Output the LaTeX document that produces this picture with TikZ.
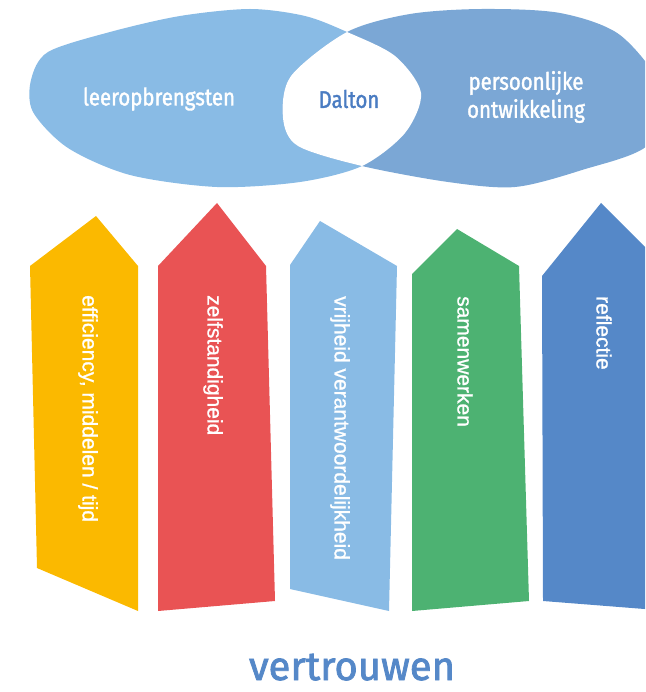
\documentclass[tikz,border=0pt]{standalone}
\usepackage{fontspec}
\usepackage{tikz}
\usetikzlibrary{positioning}
\setmainfont{Liberation Sans}
\newfontfamily\handfont[FakeStretch=0.85, FakeBold=1.5]{Fira Sans}
\newfontfamily\titlefont[FakeBold=2]{Fira Sans}
\newfontfamily\pillarfont[FakeBold=1]{Liberation Sans}
\definecolor{blobleft}{HTML}{89BBE5}
\definecolor{blobright}{HTML}{7BA7D5}
\definecolor{daltonblue}{HTML}{4A7CC2}
\definecolor{pillaryellow}{HTML}{FBB900}
\definecolor{pillarred}{HTML}{E95354}
\definecolor{pillarlight}{HTML}{89BBE5}
\definecolor{pillargreen}{HTML}{4DB272}
\definecolor{pillardark}{HTML}{5588C8}
\tikzset{
pillar/.style = { fill = #1, draw = none },
pillar label/.style = { text = white, rotate = -90, anchor = west, inner sep = 0pt, font = \pillarfont\fontsize{21}{24}\selectfont },
blob label/.style = { text = white, inner sep = 0pt, align = center, font = \handfont\fontsize{24}{28}\selectfont },
}
\begin{document}
\begin{tikzpicture}[x = 1pt, y = -1pt]
      \useasboundingbox (0, 0) rectangle (645, 692);
      \clip (0, 0) rectangle (645, 692);
      % top: two overlapping blobs
      \fill[blobleft] plot[smooth cycle] coordinates {(31, 80) (48, 52) (110, 32) (180, 16) (250, 9) (305, 16) (347, 32) (395, 56) (421, 93) (405, 133) (362, 166) (300, 182) (217, 187) (130, 175) (68, 148) (33, 112)};
      \fill[blobright] plot[smooth cycle] coordinates {(347, 32) (410, 14) (482, 9) (560, 13) (620, 35) (662, 90) (648, 145) (582, 170) (515, 187) (448, 182) (362, 166) (298, 146) (283, 118) (291, 76)};
      \begin{scope}
        \clip plot[smooth cycle] coordinates {(31, 80) (48, 52) (110, 32) (180, 16) (250, 9) (305, 16) (347, 32) (395, 56) (421, 93) (405, 133) (362, 166) (300, 182) (217, 187) (130, 175) (68, 148) (33, 112)};
        \fill[white] plot[smooth cycle] coordinates {(347, 32) (410, 14) (482, 9) (560, 13) (620, 35) (662, 90) (648, 145) (582, 170) (515, 187) (448, 182) (362, 166) (298, 146) (283, 118) (291, 76)};
      \end{scope}
      \node[blob label] (leer) at (159, 99) {leeropbrengsten};
      \node[blob label, text = daltonblue] (dalton) at (349, 99) {Dalton};
      \node[blob label] (pers) at (526, 97) {persoonlijke\\ontwikkeling};
      % pillars
      \fill[pillar = pillaryellow] (30, 266) -- (96, 216) -- (138, 266) -- (138, 611) -- (37, 568) -- cycle;
      \fill[pillar = pillarred] (158, 266) -- (217, 203) -- (266, 266) -- (275, 601) -- (158, 611) -- cycle;
      \fill[pillar = pillarlight] (290, 265) -- (320, 221) -- (397, 266) -- (389, 611) -- (290, 589) -- cycle;
      \fill[pillar = pillargreen] (412, 274) -- (457, 229) -- (519, 266) -- (529, 601) -- (412, 611) -- cycle;
      \fill[pillar = pillardark] (542, 276) -- (601, 203) -- (670, 272) -- (670, 611) -- (543, 601) -- cycle;
      \node[pillar label] (efficiency) at (88, 295) {efficiency, middelen / tijd};
      \node[pillar label] (zelf) at (213, 295) {zelfstandigheid};
      \node[pillar label] (vrijheid) at (340, 296) {vrijheid verantwoordelijkheid};
      \node[pillar label] (samen) at (465, 296) {samenwerken};
      \node[pillar label] (reflectie) at (604, 296) {reflectie};
      % bottom
      \node[text = pillardark, inner sep = 0pt, anchor = base, text depth = 0pt, font = \titlefont\fontsize{40}{42}\selectfont] (vertrouwen) at (352, 680) {vertrouwen};
    \end{tikzpicture}
\end{document}
